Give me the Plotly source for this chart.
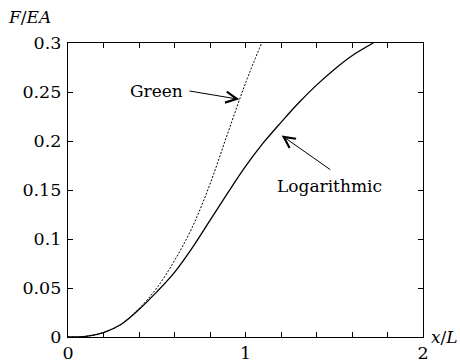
import plotly.graph_objects as go

# Green strain curve (dotted)
green_x = [0, 0.1, 0.2, 0.3, 0.4, 0.5, 0.6, 0.7, 0.8, 0.9, 1.0, 1.091]
green_y = [0, 0.0006, 0.0045, 0.013, 0.029, 0.050, 0.078, 0.112, 0.156, 0.208, 0.259, 0.300]

# Logarithmic strain curve (solid)
log_x = [0, 0.1, 0.2, 0.3, 0.4, 0.5, 0.6, 0.7, 0.8, 0.9, 1.0, 1.1, 1.2, 1.3, 1.4, 1.5, 1.6, 1.72]
log_y = [0, 0.0006, 0.0045, 0.013, 0.028, 0.046, 0.066, 0.091, 0.119, 0.147, 0.174, 0.198, 0.219, 0.239, 0.257, 0.273, 0.287, 0.300]

x_tickvals = [0, 0.2, 0.4, 0.6, 0.8, 1.0, 1.2, 1.4, 1.6, 1.8, 2.0]
x_ticktext = ["0", "", "", "", "", "1", "", "", "", "", "2"]
y_tickvals = [0, 0.05, 0.1, 0.15, 0.2, 0.25, 0.3]
y_ticktext = ["0", "0.05", "0.1", "0.15", "0.2", "0.25", "0.3"]

FONT = "DejaVu Serif, serif"
FS_TICK = 17.5
FS = 17

fig = go.Figure()
fig.add_trace(go.Scatter(x=green_x, y=green_y, mode="lines",
                         line=dict(color="black", width=1, dash="2px,1.6px", shape="spline", smoothing=1),
                         showlegend=False, hoverinfo="skip"))
fig.add_trace(go.Scatter(x=log_x, y=log_y, mode="lines",
                         line=dict(color="black", width=1.3, shape="spline", smoothing=1),
                         showlegend=False, hoverinfo="skip"))

axis_common = dict(showgrid=False, zeroline=False, showline=True, linecolor="black", linewidth=1.3,
                   mirror="ticks", ticks="inside", ticklen=5, tickwidth=1, tickcolor="black",
                   automargin=False,
                   tickfont=dict(family=FONT, size=FS_TICK, color="black"))

fig.update_xaxes(range=[0, 2], tickmode="array", tickvals=x_tickvals, ticktext=x_ticktext,
                 ticklabelstandoff=0, **axis_common)
fig.update_yaxes(range=[0, 0.3], tickmode="array", tickvals=y_tickvals, ticktext=y_ticktext,
                 ticklabelstandoff=2, **axis_common)

fig.add_annotation(x=0.965, y=0.2425, ax=0.676, ay=0.2513, xref="x", yref="y", axref="x", ayref="y",
                   showarrow=True, arrowhead=5, arrowsize=2.2, arrowwidth=1, arrowcolor="black", text="")
fig.add_annotation(x=0.66, y=0.2513, xref="x", yref="y", text="Green", showarrow=False,
                   xanchor="right", yanchor="middle", font=dict(family=FONT, size=FS, color="black"))
fig.add_annotation(x=1.204, y=0.2056, ax=1.486, ay=0.1697, xref="x", yref="y", axref="x", ayref="y",
                   showarrow=True, arrowhead=5, arrowsize=2.2, arrowwidth=1, arrowcolor="black", text="")
fig.add_annotation(x=1.476, y=0.154, xref="x", yref="y", text="Logarithmic", showarrow=False,
                   xanchor="center", yanchor="middle", font=dict(family=FONT, size=FS, color="black"))

fig.add_annotation(x=-62/355, y=1 + (43 - 17)/294, xref="paper", yref="paper",
                   text="<i>F</i>/<i>EA</i>", showarrow=False, xanchor="left", yanchor="middle",
                   font=dict(family=FONT, size=FS, color="black"))
fig.add_annotation(x=(460 - 68)/355, y=0, xref="paper", yref="paper",
                   text="<i>x</i>/<i>L</i>", showarrow=False, xanchor="right", yanchor="middle",
                   font=dict(family=FONT, size=FS, color="black"))

fig.update_layout(width=460, height=362, margin=dict(l=68, r=37, t=43, b=25),
                  plot_bgcolor="white", paper_bgcolor="white",
                  font=dict(family=FONT, size=FS, color="black"))

fig.write_html("out.html", config={"displayModeBar": False},
               post_script="document.body.style.margin='0px';")
